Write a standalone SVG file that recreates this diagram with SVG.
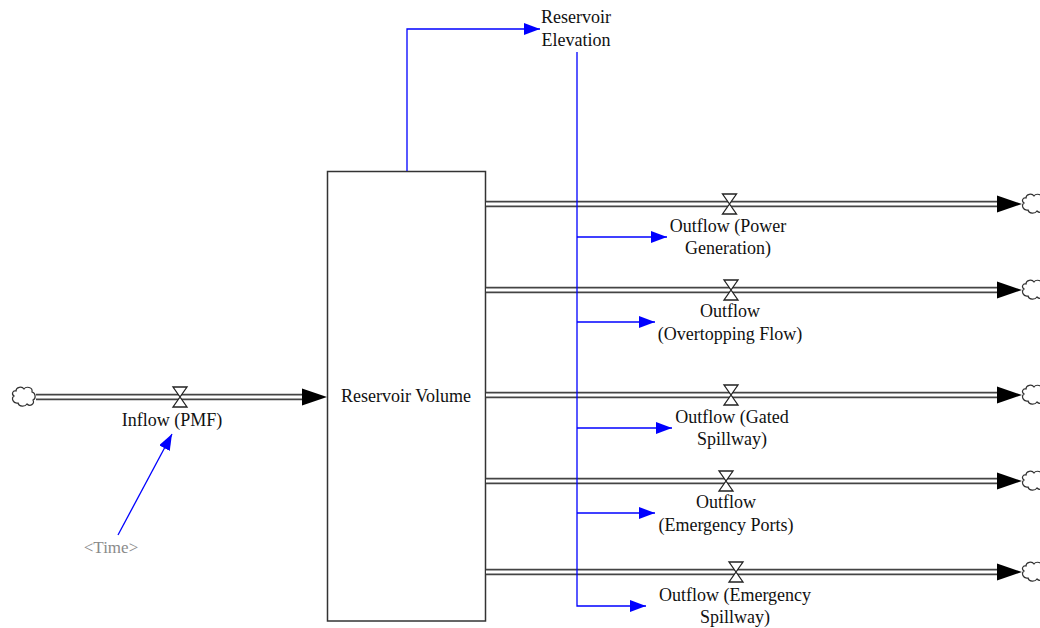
<svg xmlns="http://www.w3.org/2000/svg" width="1040" height="628" viewBox="0 0 1040 628">
  <style>
    .lbl { font-family: "Liberation Serif", "Times New Roman", serif; font-size: 18px; fill: #111; text-anchor: middle; }
    .shadow { font-family: "Liberation Serif", "Times New Roman", serif; font-size: 17px; fill: #8a8a8a; text-anchor: middle; }
    .pipe-outer { stroke: #444; stroke-width: 6.5; fill: none; }
    .pipe-inner { stroke: #fff; stroke-width: 3; fill: none; }
    .link { stroke: #0000ff; stroke-width: 1.3; fill: none; }
    .valve { fill: #fff; stroke: #222; stroke-width: 1.3; stroke-linejoin: miter; }
    .cloud { fill: #fff; stroke: #333; stroke-width: 1.2; }
    .stock { fill: #fff; stroke: #333; stroke-width: 1.5; }
  </style>
  <defs>
    <marker id="blueHead" viewBox="0 0 16 12" refX="16" refY="6" markerWidth="16" markerHeight="12" markerUnits="userSpaceOnUse" orient="auto">
      <path d="M0,0 L16,6 L0,12 Z" fill="#0000ff"/>
    </marker>
    <path id="cloudShape" d="M -8,-6 C -8,-10 -2,-11 0,-8 C 2,-11 9,-10 8,-5 C 12,-4 12,2 9,3 C 11,7 6,10 3,7 C 1,10 -5,10 -6,6 C -11,7 -13,1 -10,-1 C -13,-3 -11,-7 -8,-6 Z"/>
    <path id="valveShape" d="M -7,-10 L 7,-10 L -7,10 L 7,10 Z"/>
    <path id="pipeHead" d="M -25,-8.5 L 0,0 L -25,8.5 Z" fill="#000"/>
  </defs>

  <!-- stock -->
  <g id="reservoir-volume">
    <rect class="stock" x="327.5" y="171.5" width="158" height="449.5"/>
    <text class="lbl" x="406" y="402">Reservoir Volume</text>
  </g>

  <!-- flows: pipes and information links -->
  <g id="connectors">
    <!-- inflow pipe -->
    <path class="pipe-outer" d="M36,397 H304"/>
    <path class="pipe-inner" d="M36,397 H304"/>
    <use href="#pipeHead" x="327" y="397"/>

    <!-- outflow pipes -->
    <path class="pipe-outer" d="M486,204 H998"/>
    <path class="pipe-inner" d="M486,204 H998"/>
    <use href="#pipeHead" x="1022" y="204"/>

    <path class="pipe-outer" d="M486,290 H998"/>
    <path class="pipe-inner" d="M486,290 H998"/>
    <use href="#pipeHead" x="1022" y="290"/>

    <path class="pipe-outer" d="M486,395 H998"/>
    <path class="pipe-inner" d="M486,395 H998"/>
    <use href="#pipeHead" x="1022" y="395"/>

    <path class="pipe-outer" d="M486,481 H998"/>
    <path class="pipe-inner" d="M486,481 H998"/>
    <use href="#pipeHead" x="1022" y="481"/>

    <path class="pipe-outer" d="M486,572 H998"/>
    <path class="pipe-inner" d="M486,572 H998"/>
    <use href="#pipeHead" x="1022" y="572"/>

    <!-- information links -->
    <path class="link" d="M407,171 V29 H540" marker-end="url(#blueHead)"/>
    <path class="link" d="M577,52 V606 H646" marker-end="url(#blueHead)"/>
    <path class="link" d="M577,237 H667" marker-end="url(#blueHead)"/>
    <path class="link" d="M577,322 H655" marker-end="url(#blueHead)"/>
    <path class="link" d="M577,428 H672" marker-end="url(#blueHead)"/>
    <path class="link" d="M577,513 H655" marker-end="url(#blueHead)"/>
    <path class="link" d="M118,535 L172,434" marker-end="url(#blueHead)"/>
  </g>

  <!-- sources and sinks -->
  <g id="source-cloud">
    <use href="#cloudShape" class="cloud" x="24" y="397"/>
  </g>
  <g id="sink-clouds">
    <use href="#cloudShape" class="cloud" x="1034" y="204"/>
    <use href="#cloudShape" class="cloud" x="1034" y="290"/>
    <use href="#cloudShape" class="cloud" x="1034" y="395"/>
    <use href="#cloudShape" class="cloud" x="1034" y="481"/>
    <use href="#cloudShape" class="cloud" x="1034" y="572"/>
  </g>

  <g id="inflow-pmf">
    <use href="#valveShape" class="valve" x="180" y="397"/>
    <text class="lbl" x="172" y="426">Inflow (PMF)</text>
  </g>

  <g id="outflow-power-generation">
    <use href="#valveShape" class="valve" x="729.5" y="204"/>
    <text class="lbl" x="728" y="232">Outflow (Power</text>
    <text class="lbl" x="728" y="254">Generation)</text>
  </g>

  <g id="outflow-overtopping-flow">
    <use href="#valveShape" class="valve" x="731" y="290"/>
    <text class="lbl" x="730" y="317">Outflow</text>
    <text class="lbl" x="730" y="340">(Overtopping Flow)</text>
  </g>

  <g id="outflow-gated-spillway">
    <use href="#valveShape" class="valve" x="731" y="395"/>
    <text class="lbl" x="732" y="423">Outflow (Gated</text>
    <text class="lbl" x="732" y="445">Spillway)</text>
  </g>

  <g id="outflow-emergency-ports">
    <use href="#valveShape" class="valve" x="726" y="481"/>
    <text class="lbl" x="726" y="508">Outflow</text>
    <text class="lbl" x="726" y="531">(Emergency Ports)</text>
  </g>

  <g id="outflow-emergency-spillway">
    <use href="#valveShape" class="valve" x="736" y="572"/>
    <text class="lbl" x="735" y="601">Outflow (Emergency</text>
    <text class="lbl" x="735" y="623">Spillway)</text>
  </g>

  <g id="reservoir-elevation">
    <text class="lbl" x="576" y="23">Reservoir</text>
    <text class="lbl" x="576" y="46">Elevation</text>
  </g>

  <g id="time">
    <text class="shadow" x="111" y="553">&lt;Time&gt;</text>
  </g>
</svg>
